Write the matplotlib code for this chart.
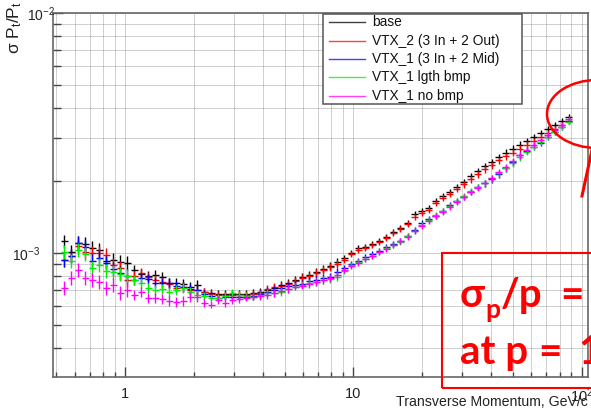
import numpy as np
import matplotlib
matplotlib.use("Agg")
import matplotlib.pyplot as plt
from matplotlib.patches import Rectangle, Ellipse
from matplotlib.lines import Line2D
from matplotlib.ticker import FixedLocator, FixedFormatter, LogLocator, NullFormatter

plt.rcParams['font.family'] = ['Liberation Sans', 'DejaVu Sans']
plt.rcParams['mathtext.fontset'] = 'custom'
plt.rcParams['mathtext.rm'] = 'Liberation Sans'
plt.rcParams['mathtext.it'] = 'Liberation Sans:italic'
plt.rcParams['mathtext.bf'] = 'Liberation Sans:bold'

# ---------------- data ----------------
pt_bins = [0.540, 0.580, 0.622, 0.668, 0.717, 0.769, 0.826, 0.886, 0.951,
           1.020, 1.095, 1.175, 1.261, 1.354, 1.453, 1.560, 1.674, 1.796, 1.928,
           2.069, 2.221, 2.384, 2.558, 2.746, 2.947, 3.162, 3.394, 3.643, 3.910,
           4.196, 4.504, 4.834, 5.188, 5.569, 5.977, 6.412, 6.883, 7.387, 7.929, 8.509, 9.131, 9.799,
           10.52, 11.29, 12.11, 13.00, 13.95, 14.97, 16.07, 17.25, 18.51, 19.87,
           21.32, 22.88, 24.56, 26.36, 28.29, 30.36, 32.59, 34.98, 37.54, 40.29,
           43.24, 46.41, 49.81, 53.46, 57.38, 61.58, 66.10, 70.94, 76.14, 81.72, 87.71]

# sigma(pT)/pT in units of 1e-3
base = [1.121, 1.010, 1.100, 1.090, 1.049, 1.029, 0.927, 0.935, 0.918, 0.909,
        0.850, 0.818, 0.803, 0.810, 0.795, 0.751, 0.751, 0.744, 0.723, 0.737,
        0.689, 0.682, 0.676, 0.676, 0.676, 0.676, 0.676, 0.682, 0.689, 0.702,
        0.716, 0.737, 0.751, 0.773, 0.795, 0.810, 0.834, 0.858, 0.883, 0.918,
        0.953, 1.000, 1.049, 1.059, 1.090, 1.121, 1.165, 1.222, 1.270, 1.331,
        1.451, 1.494, 1.537, 1.643, 1.723, 1.790, 1.878, 1.969, 2.085, 2.187,
        2.294, 2.384, 2.500, 2.622, 2.724, 2.830, 2.940, 3.054, 3.172, 3.295,
        3.423, 3.556, 3.695]

vtx2_3in2out = [0.935, 0.972, 1.069, 1.010, 1.000, 1.000, 0.981, 0.892, 0.867, 0.773,
                0.803, 0.826, 0.795, 0.773, 0.758, 0.744, 0.716, 0.723, 0.702, 0.702,
                0.689, 0.676, 0.669, 0.669, 0.669, 0.669, 0.669, 0.676, 0.682, 0.709,
                0.723, 0.730, 0.744, 0.765, 0.788, 0.803, 0.826, 0.850, 0.875, 0.900,
                0.935, 0.991, 1.029, 1.049, 1.080, 1.111, 1.154, 1.211, 1.258, 1.319,
                1.410, 1.465, 1.508, 1.612, 1.691, 1.757, 1.842, 1.932, 2.027, 2.126,
                2.230, 2.316, 2.430, 2.524, 2.622, 2.724, 2.830, 2.940, 3.054, 3.172,
                3.295, 3.423, 3.556]

vtx1_3in2mid = [0.935, 0.972, 1.100, 1.059, 0.927, 0.953, 0.909, 0.858, 0.826, 0.803,
                0.773, 0.788, 0.780, 0.751, 0.751, 0.751, 0.730, 0.723, 0.709, 0.702,
                0.676, 0.663, 0.651, 0.657, 0.657, 0.657, 0.657, 0.663, 0.676, 0.689,
                0.702, 0.716, 0.730, 0.737, 0.744, 0.765, 0.773, 0.788, 0.795, 0.834,
                0.867, 0.900, 0.927, 0.963, 0.991, 1.019, 1.059, 1.090, 1.121, 1.176,
                1.246, 1.331, 1.383, 1.424, 1.494, 1.582, 1.643, 1.707, 1.790, 1.878,
                1.950, 2.027, 2.126, 2.251, 2.384, 2.548, 2.673, 2.777, 2.884, 3.054,
                3.203, 3.359, 3.556]

vtx1_lgth_bmp = [1.010, 0.927, 1.029, 0.991, 0.867, 0.892, 0.842, 0.834, 0.818, 0.803,
                 0.773, 0.751, 0.716, 0.702, 0.709, 0.689, 0.702, 0.716, 0.689, 0.669,
                 0.663, 0.651, 0.651, 0.663, 0.682, 0.669, 0.663, 0.657, 0.669, 0.682,
                 0.682, 0.689, 0.709, 0.723, 0.737, 0.751, 0.758, 0.773, 0.780, 0.795,
                 0.842, 0.892, 0.918, 0.944, 0.972, 1.010, 1.049, 1.080, 1.111, 1.176,
                 1.234, 1.307, 1.370, 1.438, 1.494, 1.567, 1.643, 1.723, 1.808, 1.878,
                 1.950, 2.046, 2.146, 2.251, 2.363, 2.500, 2.647, 2.777, 2.912, 3.054,
                 3.203, 3.359, 3.530]

vtx1_no_bmp = [0.716, 0.788, 0.850, 0.788, 0.773, 0.758, 0.716, 0.737, 0.682, 0.702,
               0.669, 0.689, 0.651, 0.651, 0.644, 0.632, 0.626, 0.632, 0.657, 0.657,
               0.620, 0.609, 0.638, 0.620, 0.638, 0.644, 0.651, 0.657, 0.663, 0.669,
               0.682, 0.696, 0.709, 0.723, 0.730, 0.744, 0.758, 0.773, 0.788, 0.810,
               0.850, 0.883, 0.909, 0.944, 0.972, 1.010, 1.039, 1.080, 1.121, 1.165,
               1.234, 1.294, 1.357, 1.424, 1.479, 1.552, 1.628, 1.707, 1.790, 1.860,
               1.950, 2.046, 2.167, 2.273, 2.407, 2.548, 2.698, 2.830, 2.968, 3.113,
               3.264, 3.423, 3.625]

# relative vertical error (percent), per pT bin
rel_err_pct = [6.5] * 10 + [5.0] * 10 + [3.5] * 20 + [3.0] * 33
bin_half_dex = 0.0153  # half bin width in log10(pT)

series_labels = ["base", "VTX_2 (3 In + 2 Out)", "VTX_1 (3 In + 2 Mid)",
                 "VTX_1 lgth bmp", "VTX_1 no bmp"]
series_values = [base, vtx2_3in2out, vtx1_3in2mid, vtx1_lgth_bmp, vtx1_no_bmp]
series_colors = ["#000000", "#ff0000", "#0000ff", "#00ee00", "#ff00ff"]

x_ticks = [1, 10, 100]
x_ticklabels = ["1", "10", r"$10^{2}$"]
y_ticks = [1e-3, 1e-2]
y_ticklabels = [r"$10^{-3}$", ""]
y_top_label = r"$10^{-2}$"

# ---------------- figure ----------------
W, H = 591, 411
fig = plt.figure(figsize=(W / 100, H / 100), dpi=100)
fig.patch.set_facecolor("white")


def fx(px):
    return px / W


def fy(py):
    return 1 - py / H


ax = fig.add_axes([fx(53), fy(377), 535 / W, 364 / H])
ax.set_xscale("log")
ax.set_yscale("log")
ax.set_xlim(0.483, 106.5)
ax.set_ylim(3.042e-4, 1e-2)

x = np.array(pt_bins)
r = 10 ** bin_half_dex
xerr = [x - x / r, x * r - x]
rel = np.array(rel_err_pct) / 100.0
for vals, col in zip(series_values, series_colors):
    y = np.array(vals) * 1e-3
    ax.errorbar(x, y, xerr=xerr, yerr=y * rel, fmt="none", ecolor=col,
                elinewidth=1.0, capsize=0, zorder=3)

# grid
ax.set_axisbelow(True)
ax.grid(True, which="both", color="#7a7a7a", linestyle=(0, (1, 1.4)), linewidth=0.6)

# ticks
ax.xaxis.set_major_locator(FixedLocator(x_ticks))
ax.xaxis.set_major_formatter(FixedFormatter(x_ticklabels))
ax.xaxis.set_minor_locator(LogLocator(base=10, subs=np.arange(2, 10)))
ax.xaxis.set_minor_formatter(NullFormatter())
ax.yaxis.set_major_locator(FixedLocator(y_ticks))
ax.yaxis.set_major_formatter(FixedFormatter(y_ticklabels))
ax.yaxis.set_minor_locator(LogLocator(base=10, subs=np.arange(2, 10)))
ax.yaxis.set_minor_formatter(NullFormatter())
ax.tick_params(which="both", direction="in", top=False, right=False,
               color="#444444", width=1.0, labelcolor="#222222")
ax.tick_params(axis="x", which="major", length=7, pad=7, labelsize=10.5)
ax.tick_params(axis="x", which="minor", length=3.5)
ax.tick_params(axis="y", which="major", length=7, pad=9, labelsize=10)
ax.tick_params(axis="y", which="minor", length=5.5)
for s in ax.spines.values():
    s.set_color("#666666")
    s.set_linewidth(1.2)

# top label of the log y axis (ROOT places it next to the title)
fig.text(fx(27), fy(15), y_top_label, ha="left", va="center", fontsize=10, color="#222222")

# axis titles (ROOT style: right / top aligned)
fig.text(fx(588), fy(406), "Transverse Momentum, GeV/c", ha="right", va="baseline",
         fontsize=10.2, color="#222222")
fig.text(fx(15), fy(1), r"σ P$_{\mathrm{t}}$/P$_{\mathrm{t}}$", rotation=90, ha="center",
         va="top", fontsize=12.5, color="#222222")

# legend (ROOT TLegend look)
leg_left, leg_right, leg_top, leg_bot = 323, 522, 14, 104
ax_x0, ax_x1, ax_y0, ax_y1 = 53, 588, 377, 13


def axfx(px):
    return (px - ax_x0) / (ax_x1 - ax_x0)


def axfy(py):
    return (ax_y0 - py) / (ax_y0 - ax_y1)


ax.add_patch(Rectangle((axfx(leg_left), axfy(leg_bot)), axfx(leg_right) - axfx(leg_left),
                       axfy(leg_top) - axfy(leg_bot), transform=ax.transAxes,
                       facecolor="white", edgecolor="#555555", linewidth=1.1, zorder=5))
row_y = [22, 41, 59, 77, 96]
for lab, col, ry in zip(series_labels, series_colors, row_y):
    ax.add_line(Line2D([axfx(329), axfx(365)], [axfy(ry), axfy(ry)], transform=ax.transAxes,
                       color=col, linewidth=1.0, zorder=6, alpha=0.75))
    ax.text(axfx(372), axfy(ry), lab, transform=ax.transAxes, ha="left", va="center",
            fontsize=9.9, color="#111111", zorder=6)

# ---------------- slide annotations (red) ----------------
red = "#ff0000"
fig.add_artist(Ellipse((fx(597), fy(114)), 100 / W, 68 / H, transform=fig.transFigure,
                       fill=False, edgecolor=red, linewidth=1.8, zorder=10))
fig.add_artist(Line2D([fx(582), fx(592)], [fy(196), fy(150)], transform=fig.transFigure,
                      color=red, linewidth=2.2, zorder=10))
fig.add_artist(Rectangle((fx(442), fy(388)), (600 - 442) / W, (388 - 253) / H,
                         transform=fig.transFigure, fill=False, edgecolor=red,
                         linewidth=1.5, zorder=10))
afont = dict(family=["Lato", "DejaVu Sans"], fontweight="bold", color=red, zorder=11)
fig.text(fx(460), fy(307), "σ", ha="left", va="baseline", fontsize=29, **afont)
fig.text(fx(485), fy(318), "p", ha="left", va="baseline", fontsize=19, **afont)
fig.text(fx(501), fy(307), "/p", ha="left", va="baseline", fontsize=29, **afont)
fig.text(fx(560), fy(307), "=", ha="left", va="baseline", fontsize=29, **afont)
fig.text(fx(460), fy(364), "at p", ha="left", va="baseline", fontsize=29, **afont)
fig.text(fx(538), fy(364), "=", ha="left", va="baseline", fontsize=29, **afont)
fig.text(fx(578), fy(364), "1", ha="left", va="baseline", fontsize=29, **afont)

fig.savefig("out.png", dpi=100)
